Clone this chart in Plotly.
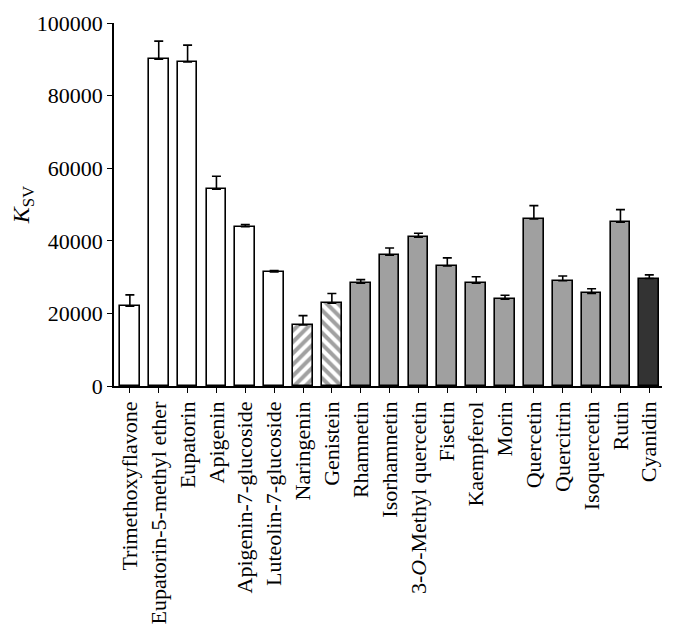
import plotly.graph_objects as go

compounds = [
    "Trimethoxyflavone", "Eupatorin-5-methyl ether", "Eupatorin", "Apigenin",
    "Apigenin-7-glucoside", "Luteolin-7-glucoside", "Naringenin", "Genistein",
    "Rhamnetin", "Isorhamnetin", "3-<i>O</i>-Methyl quercetin", "Fisetin",
    "Kaempferol", "Morin", "Quercetin", "Quercitrin", "Isoquercetin", "Rutin",
    "Cyanidin",
]
ksv = [22000, 90000, 89300, 54200, 43900, 31400, 16800, 22800,
       28300, 36000, 41000, 33100, 28300, 23900, 46000, 29000, 25500, 45100,
       29600]
ksv_err = [3100, 5000, 4600, 3600, 600, 400, 2600, 2700,
           1000, 2000, 1100, 2200, 1800, 1100, 3700, 1300, 1300, 3500,
           1000]
groups = ["flavone"] * 6 + ["flavanone", "isoflavone"] + ["flavonol"] * 10 + ["anthocyanidin"]

fill = {"flavone": "white", "flavanone": "white", "isoflavone": "white",
        "flavonol": "#a0a0a0", "anthocyanidin": "#333333"}
hatch = {"flavone": "", "flavanone": "/", "isoflavone": "\\",
         "flavonol": "", "anthocyanidin": ""}

fig = go.Figure(go.Bar(
    x=compounds,
    y=ksv,
    width=0.68,
    marker=dict(
        color=[fill[g] for g in groups],
        line=dict(color="black", width=1.6),
        pattern=dict(shape=[hatch[g] for g in groups], fgcolor="black",
                     bgcolor="white", size=8, solidity=0.5),
    ),
    error_y=dict(type="data", symmetric=False, array=ksv_err,
                 arrayminus=[0] * len(ksv_err), color="black",
                 thickness=1.6, width=4.5),
))

# page body has an 8px margin, so the figure is a bit smaller than the window
font = "Liberation Serif, Times New Roman, serif"
fig.update_layout(
    width=668, height=634,
    margin=dict(l=106, r=14, t=15, b=256),
    plot_bgcolor="white", paper_bgcolor="white",
    showlegend=False,
    font=dict(family=font, size=22, color="black"),
    bargap=0,
)
fig.update_xaxes(
    range=[-0.55, 18.44], tickangle=-90, showline=True, linecolor="black",
    linewidth=1.5, ticks="outside", ticklen=5, tickwidth=1.2,
    tickcolor="black", showgrid=False, tickfont=dict(size=22),
    automargin=False,
)
fig.update_yaxes(
    range=[0, 100000], dtick=20000, tickformat="d", showline=True,
    linecolor="black", linewidth=1.5, ticks="outside", ticklen=5,
    tickwidth=1.2, tickcolor="black", showgrid=False, zeroline=False,
    tickfont=dict(size=22), automargin=False,
    title=dict(text="<i>K</i><sub>SV</sub>", font=dict(size=24), standoff=8),
)

fig.write_html("out.html")
